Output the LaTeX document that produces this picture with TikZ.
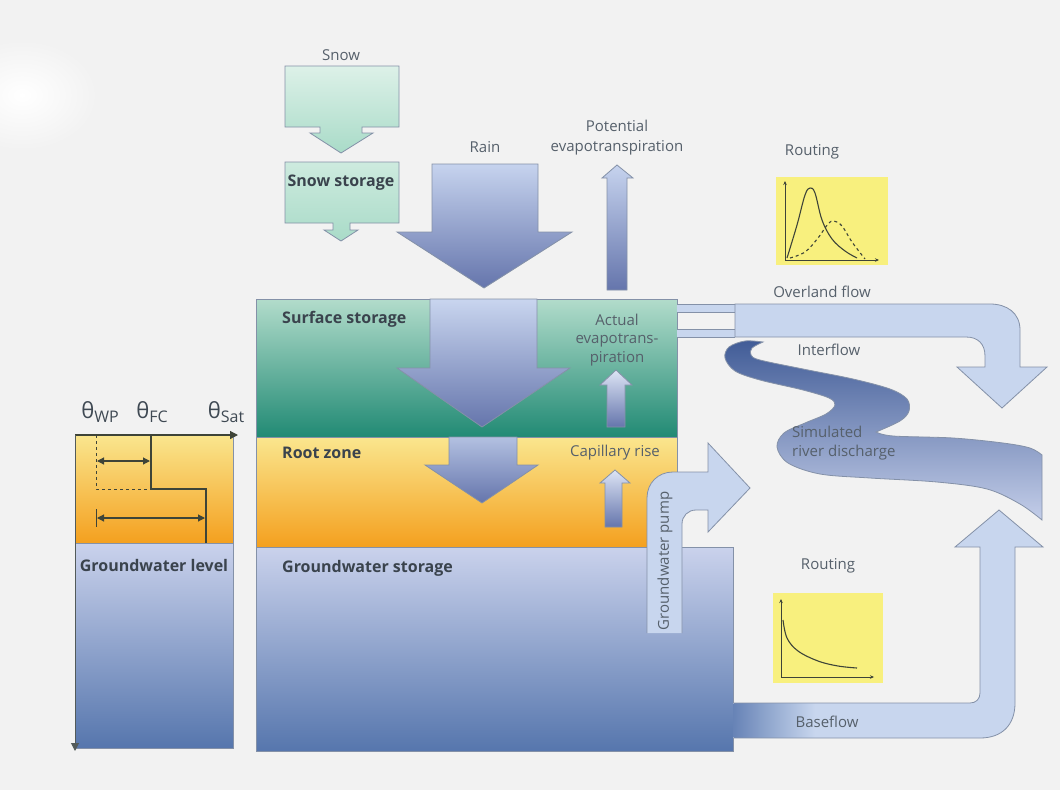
\documentclass[tikz,border=0pt]{standalone}
\usepackage{fontspec}
\setmainfont{Open Sans}
\usetikzlibrary{arrows.meta}
\definecolor{bg}{HTML}{F2F2F2}
\definecolor{edge}{HTML}{8491A8}
\definecolor{txt}{HTML}{56606B}
\definecolor{btxt}{HTML}{3A434D}
\definecolor{flow}{HTML}{C8D6EE}
\definecolor{mintT}{HTML}{DDF1E8}
\definecolor{mintB}{HTML}{A9DBC8}
\definecolor{rainT}{HTML}{C6D3EE}
\definecolor{rainB}{HTML}{6575AC}
\definecolor{tealT}{HTML}{B2DCCB}
\definecolor{tealB}{HTML}{218A74}
\definecolor{rootT}{HTML}{FAE68E}
\definecolor{rootB}{HTML}{F4A01F}
\definecolor{gwT}{HTML}{CAD2EC}
\definecolor{gwB}{HTML}{5676AD}
\definecolor{routeY}{HTML}{F8F07E}
\definecolor{snakeT}{HTML}{415C97}
\definecolor{snakeB}{HTML}{C4CEE9}
\definecolor{axisc}{HTML}{3E4438}
\begin{document}
\begin{tikzpicture}[x=1pt,y=-1pt,line join=miter]
\tikzset{
  lbl/.style={text=txt,font=\fontsize{15}{18.5}\selectfont,inner sep=0pt,align=center},
  blbl/.style={text=btxt,font=\fontsize{16}{19}\selectfont\bfseries,inner sep=0pt},
  outline/.style={draw=edge,line width=0.8pt},
  gr/.style={draw=axisc,line width=0.9pt},
  tip/.style={-{Stealth[length=4pt,width=3.5pt]}},
  ltip/.style={{Triangle[length=7pt,width=7pt]}-{Triangle[length=7pt,width=7pt]}},
  theta/.style={text=btxt!80!txt,font=\fontsize{22}{24}\selectfont,inner sep=0pt}
}
\useasboundingbox (0,0) rectangle (1060,790);
\fill[bg] (0,0) rectangle (1060,790);
\shade[inner color=white,outer color=bg] (22,95) ellipse [x radius=75pt,y radius=55pt];

% snow
\shade[outline,top color=mintT,bottom color=mintB] (285,66) -- (399,66) -- (399,127) -- (362,127) -- (362,133) -- (373,133) -- (341,153) -- (310,133) -- (320,133) -- (320,127) -- (285,127) -- cycle;
\node[lbl] (snowlbl) at (341,55) {Snow};
\shade[outline,top color=mintT!70!mintB,bottom color=mintB] (285,162) -- (399,162) -- (399,223) -- (350,223) -- (350,230) -- (358,230) -- (341,241) -- (324,230) -- (333,230) -- (333,223) -- (285,223) -- cycle;
\node[blbl] (snowstore) at (341,183) {Snow storage};

% rain
\shade[outline,top color=rainT,bottom color=rainB] (432,164) -- (538,164) -- (538,232) -- (572,232) -- (484,288) -- (397,232) -- (432,232) -- cycle;
\node[lbl] (rainlbl) at (485,147) {Rain};

% potential ET
\shade[outline,top color=rainT,bottom color=rainB] (607,290) -- (607,178) -- (602,178) -- (617,165) -- (633,178) -- (627,178) -- (627,290) -- cycle;
\node[lbl,font=\fontsize{15}{20}\selectfont] (petlbl) at (617,138) {Potential\\evapotranspiration};

% storages
\shade[outline,top color=tealT,bottom color=tealB] (256,299) rectangle (677,437);
\shade[outline,top color=rootT,bottom color=rootB] (256,437) rectangle (677,547);
\shade[outline,top color=gwT,bottom color=gwB] (256,547) rectangle (733,751);
\node[blbl,anchor=west] (surflbl) at (282,319) {Surface storage};
\node[blbl,anchor=west] (rootlbl) at (282,453) {Root zone};
\node[blbl,anchor=west] (gwlbl) at (282,568) {Groundwater storage};

% infiltration arrows
\shade[outline,top color=rainT!95!white,bottom color=rainB] (430,299) -- (537,299) -- (537,368) -- (570,368) -- (482,427) -- (397,368) -- (430,368) -- cycle;
\shade[outline,top color=rainT!80!rainB,bottom color=rainB] (449,437) -- (517,437) -- (517,465) -- (538,465) -- (482,503) -- (425,465) -- (449,465) -- cycle;

% actual ET and capillary rise
\shade[outline,top color=rainT!60!white,bottom color=rainB] (607,427) -- (607,385) -- (600,385) -- (616,370) -- (632,385) -- (625,385) -- (625,427) -- cycle;
\node[lbl] (aetlbl) at (617,340) {Actual\\evapotrans-\\piration};
\shade[outline,top color=rainT!60!white,bottom color=rainB] (605,527) -- (605,483) -- (600,483) -- (615,470) -- (630,483) -- (622,483) -- (622,527) -- cycle;
\node[lbl] (caplbl) at (615,453) {Capillary rise};

% groundwater pump
\fill[flow] (647,633) -- (647,498) .. controls (647,483) and (658,472) .. (673,472) -- (708,472) -- (708,443) -- (750,488) -- (708,532) -- (708,510) -- (696,510) .. controls (688,510) and (682,516) .. (682,524) -- (682,633) -- cycle;
\draw[outline] (647,633) -- (647,498) .. controls (647,483) and (658,472) .. (673,472) -- (708,472) -- (708,443) -- (750,488) -- (708,532) -- (708,510) -- (696,510) .. controls (688,510) and (682,516) .. (682,524) -- (682,633);
\node[lbl,rotate=90] (pump) at (665,561) {Groundwater pump};

% overland flow
\fill[flow] (677,304) rectangle (735,312);
\fill[flow] (677,329) rectangle (735,337);
\draw[outline] (677,304) -- (735,304) (677,312) -- (735,312) (677,329) -- (735,329) (677,337) -- (735,337);
\path[outline,fill=flow] (735,304) -- (990,304) .. controls (1007,304) and (1020,313) .. (1020,330) -- (1020,367) -- (1047,367) -- (1002,408) -- (957,367) -- (985,367) -- (985,356) .. controls (985,344) and (978,337) .. (966,337) -- (735,337) -- cycle;
\node[lbl] (overland) at (822,292) {Overland flow};

% interflow / river
\shade[outline,top color=snakeT,bottom color=snakeB]
  plot[smooth,tension=0.55] coordinates {(763,342) (752,348) (751,355) (760,360) (803,369) (853,379) (890,389) (907,399) (909,411) (900,421) (876,432)}
  -- plot[smooth,tension=0.55] coordinates {(876,432) (893,436) (953,438) (1003,443) (1030,448) (1042,455)}
  -- plot[smooth,tension=0.55] coordinates {(1042,520) (1020,504) (987,489) (937,482) (870,478) (820,474) (788,463) (777,447) (784,433) (805,423) (826,414) (835,405) (829,398) (803,390) (760,380) (735,371) (725,358) (729,347) (745,341) (763,342)}
  -- cycle;
\node[lbl] (interflow) at (829,350) {Interflow};
\node[lbl,align=left,anchor=west] (simriver) at (792,443) {Simulated\\river discharge};

% baseflow
\path[fill=flow] (733,703) -- (970,703) .. controls (976,703) and (980,699) .. (980,693) -- (980,547) -- (955,547) -- (999,510) -- (1043,547) -- (1015,547) -- (1015,703) .. controls (1015,725) and (1002,738) .. (980,738) -- (733,738) -- cycle;
\shade[left color=gwB!85!gwT,right color=flow] (733.5,703.5) rectangle (815,737.5);
\draw[outline] (733,703) -- (970,703) .. controls (976,703) and (980,699) .. (980,693) -- (980,547) -- (955,547) -- (999,510) -- (1043,547) -- (1015,547) -- (1015,703) .. controls (1015,725) and (1002,738) .. (980,738) -- (733,738);
\node[lbl] (baseflow) at (827,722) {Baseflow};

% routing graphs
\fill[routeY] (776,177) rectangle (888,265);
\draw[gr,tip] (785,260) -- (785,181);
\draw[gr,tip] (785,260) -- (879,260);
\draw[gr,line width=1.1pt] plot[smooth,tension=0.6] coordinates {(787,258) (797,225) (805,195) (810,188) (815,193) (822,220) (832,239) (845,251) (857,258)};
\draw[gr,line width=1.1pt,dashed] plot[smooth,tension=0.6] coordinates {(790,258) (805,252) (818,238) (828,224) (834,221) (842,226) (852,242) (865,259)};
\node[lbl] (route1) at (812,152) {Routing};
\fill[routeY] (773,593) rectangle (883,683);
\draw[gr,tip] (781,677) -- (781,599);
\draw[gr,tip] (781,677) -- (874,677);
\draw[gr,line width=1.1pt] plot[smooth,tension=0.6] coordinates {(783,620) (787,638) (798,651) (818,661) (838,666) (857,668)};
\node[lbl] (route2) at (828,566) {Routing};

% soil moisture panel
\shade[top color=rootT,bottom color=rootB] (75,435) rectangle (233,543);
\shade[top color=gwT,bottom color=gwB] (75,543) rectangle (233,748);
\draw[outline] (233,435) -- (233,748) -- (75,748);
\draw[edge,line width=0.6pt] (75,543) -- (233,543);
\draw[axisc,line width=1.2pt,-{Triangle[length=8pt,width=8pt]}] (75,435) -- (238,435);
\draw[axisc!70!edge,line width=1pt,-{Triangle[length=8pt,width=8pt]}] (75,435) -- (75,751);
\draw[axisc,line width=1pt,dashed] (96,435) -- (96,489) -- (151,489);
\draw[axisc,line width=1.2pt] (151,435) -- (151,489) -- (206,489) -- (206,543);
\draw[axisc,line width=1.1pt,ltip] (97,461) -- (150,461);
\draw[axisc,line width=1.1pt,ltip] (97,518) -- (205,518);
\draw[axisc,line width=1pt] (96,509) -- (96,527);
\node[theta] (thwp) at (100,412) {θ\raisebox{-4pt}{\fontsize{16}{17}\selectfont WP}};
\node[theta] (thfc) at (152,412) {θ\raisebox{-4pt}{\fontsize{16}{17}\selectfont FC}};
\node[theta] (thsat) at (226,412) {θ\raisebox{-4pt}{\fontsize{16}{17}\selectfont Sat}};
\node[blbl] (gwlevel) at (154,565) {Groundwater level};
\end{tikzpicture}
\end{document}
